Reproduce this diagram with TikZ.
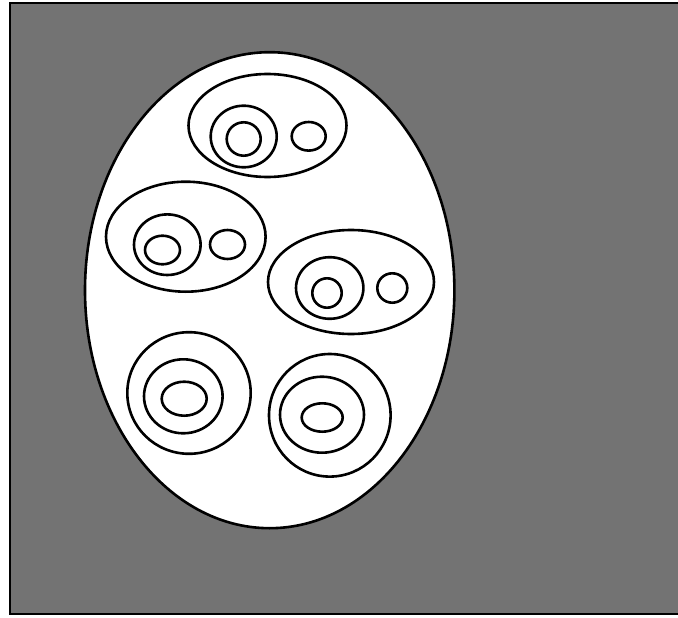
\documentclass[tikz,border=0pt]{standalone}
\begin{document}
\begin{tikzpicture}[x=1pt,y=-1pt,
  ln/.style={draw=black,line width=2.6pt},
  ov/.style={ln}]
\definecolor{bggray}{RGB}{115,115,115}
\useasboundingbox (0,0) rectangle (678,618);
\fill[white] (0,0) rectangle (678,618);
\begin{scope}
\clip (0,0) rectangle (678,618);
\draw[ln,fill=bggray] (10,3) rectangle (720,614);
\end{scope}
\draw[ln,fill=white] (269.7,290.2) ellipse [x radius=184.7,y radius=238];
% group 1
\draw[ov] (267.5,125.5) ellipse [x radius=79,y radius=51.5];
\draw[ov] (243.7,136.5) ellipse [x radius=33,y radius=30.8];
\draw[ov] (243.7,139) ellipse [x radius=17,y radius=16.7];
\draw[ov] (308.7,136.3) ellipse [x radius=17,y radius=14.3];
% group 2
\draw[ov] (185.8,236.7) ellipse [x radius=79.8,y radius=55];
\draw[ov] (167.3,244.7) ellipse [x radius=33.3,y radius=30.3];
\draw[ov] (162.5,250) ellipse [x radius=17.5,y radius=14.3];
\draw[ov] (227.5,244.5) ellipse [x radius=17.5,y radius=14.5];
% group 3
\draw[ov] (351,282) ellipse [x radius=83,y radius=52];
\draw[ov] (329.7,288) ellipse [x radius=33.7,y radius=30.8];
\draw[ov] (327,293) ellipse [x radius=14.7,y radius=14.7];
\draw[ov] (392.3,288) ellipse [x radius=15,y radius=14.7];
% group 4
\draw[ov] (189,393) ellipse [x radius=61.7,y radius=60.8];
\draw[ov] (183.3,396.3) ellipse [x radius=39.3,y radius=37];
\draw[ov] (184.2,398.7) ellipse [x radius=22.5,y radius=17];
% group 5
\draw[ov] (329.8,415.3) ellipse [x radius=60.8,y radius=61.3];
\draw[ov] (322,414.7) ellipse [x radius=42,y radius=38];
\draw[ov] (322.2,417.5) ellipse [x radius=20.5,y radius=14.2];
\end{tikzpicture}
\end{document}
